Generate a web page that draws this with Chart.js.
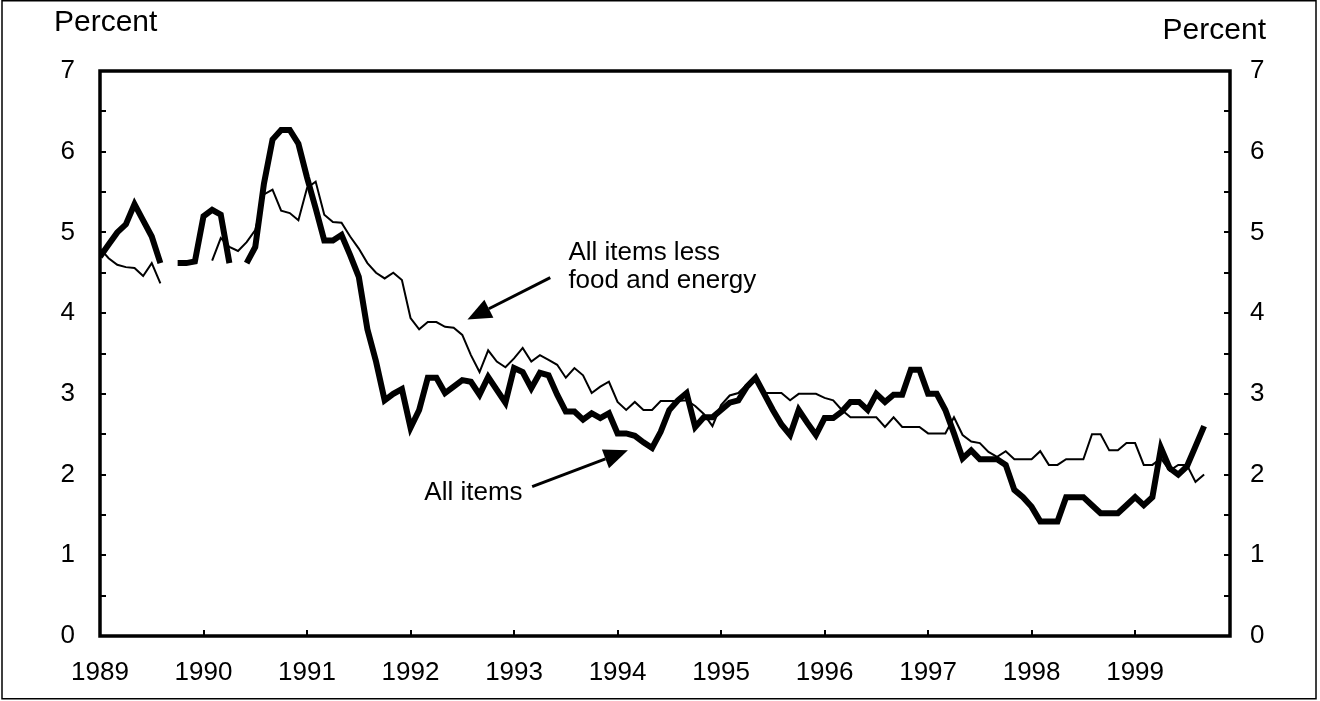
<!DOCTYPE html>
<html>
<head>
<meta charset="utf-8">
<script src="https://cdn.jsdelivr.net/npm/chart.js@4/dist/chart.umd.min.js"></script>
<style>
    html, body { margin: 0; padding: 0; background: #fff; }
    #wrap { width: 1320px; height: 701px; }
</style>
</head>
<body>
<div id="wrap"><canvas id="cpiChart" width="1320" height="701"></canvas></div>
<script>
// 12-month percent change, monthly from Jan 1989 (index 0)
var yearLabels = ['1989', '1990', '1991', '1992', '1993', '1994', '1995', '1996', '1997', '1998', '1999'];
var yTickLabels = [0, 1, 2, 3, 4, 5, 6, 7];

var allItems = [
    4.7, 4.85, 5.0, 5.1, 5.35, 5.15, 4.95, 4.62, null, 4.62, 4.62, 4.64,     // 1989
    5.2, 5.28, 5.22, 4.62, null, 4.62, 4.82, 5.6, 6.15, 6.27, 6.27, 6.1,     // 1990
    5.68, 5.3, 4.9, 4.9, 4.97, 4.72, 4.45, 3.8, 3.4, 2.92, 3.0, 3.06,        // 1991
    2.58, 2.8, 3.2, 3.2, 3.01, 3.09, 3.17, 3.15, 2.99, 3.21, 3.05, 2.89,     // 1992
    3.32, 3.27, 3.07, 3.26, 3.23, 2.99, 2.78, 2.78, 2.68, 2.76, 2.7, 2.76,   // 1993
    2.51, 2.51, 2.48, 2.4, 2.33, 2.53, 2.8, 2.92, 3.01, 2.59, 2.71, 2.71,    // 1994
    2.8, 2.89, 2.92, 3.09, 3.2, 3.0, 2.8, 2.62, 2.49, 2.8, 2.64, 2.49,       // 1995
    2.7, 2.7, 2.78, 2.9, 2.9, 2.8, 3.0, 2.9, 2.99, 2.99, 3.3, 3.3,           // 1996
    3.0, 3.0, 2.8, 2.51, 2.2, 2.3, 2.19, 2.19, 2.19, 2.12, 1.81, 1.72,       // 1997
    1.6, 1.42, 1.42, 1.42, 1.72, 1.72, 1.72, 1.62, 1.52, 1.52, 1.52, 1.62,   // 1998
    1.72, 1.62, 1.72, 2.33, 2.08, 2.0, 2.1, 2.35, 2.6                        // 1999
];

var lessFoodEnergy = [
    4.8, 4.68, 4.6, 4.57, 4.56, 4.46, 4.62, 4.37, null, null, null, null,    // 1989
    null, 4.65, 4.93, 4.82, 4.77, 4.88, 5.03, 5.47, 5.53, 5.27, 5.24, 5.15,  // 1990
    5.55, 5.63, 5.22, 5.13, 5.12, 4.95, 4.8, 4.62, 4.5, 4.43, 4.5, 4.41,     // 1991
    3.94, 3.8, 3.89, 3.89, 3.83, 3.82, 3.73, 3.48, 3.27, 3.54, 3.4, 3.33,    // 1992
    3.44, 3.57, 3.4, 3.48, 3.42, 3.36, 3.2, 3.32, 3.23, 3.01, 3.09, 3.15,    // 1993
    2.9, 2.8, 2.9, 2.8, 2.8, 2.91, 2.91, 2.91, 2.92, 2.85, 2.75, 2.6,        // 1994
    2.86, 2.98, 3.01, 3.12, 3.2, 3.01, 3.01, 3.01, 2.92, 3.0, 3.0, 3.0,      // 1995
    2.95, 2.92, 2.8, 2.71, 2.71, 2.71, 2.71, 2.59, 2.71, 2.59, 2.59, 2.59,   // 1996
    2.51, 2.51, 2.51, 2.71, 2.49, 2.41, 2.39, 2.28, 2.22, 2.29, 2.19, 2.19,  // 1997
    2.19, 2.29, 2.12, 2.12, 2.19, 2.19, 2.19, 2.5, 2.5, 2.3, 2.3, 2.39,      // 1998
    2.39, 2.12, 2.12, 2.2, 2.05, 2.12, 2.12, 1.91, 2.0                       // 1999
];

var FONT = '"Liberation Sans", Arial, Helvetica, sans-serif';

function toPoints(arr) {
    return arr.map(function(v, i) { return { x: i, y: v }; });
}

// callouts, placed in data units (month index, percent)
var callouts = [
    { lines: ['All items less', 'food and energy'], text: [54.3, 4.66], from: [52.2, 4.44], to: [42.6, 3.92] },
    { lines: ['All items'], text: [37.6, 1.69], from: [50.1, 1.85], to: [61.2, 2.30] }
];

var framePlugin = {
    id: 'frame',
    afterDatasetsDraw: function(chart) {
        var ctx = chart.ctx;
        var a = chart.chartArea;
        var xs = chart.scales.x;
        var ys = chart.scales.y;
        ctx.save();
        ctx.strokeStyle = '#000';
        ctx.fillStyle = '#000';

        // inward tick marks
        ctx.lineWidth = 2;
        ctx.beginPath();
        for (var v = 0.5; v < 7; v += 0.5) {
            var py = Math.round(ys.getPixelForValue(v));
            ctx.moveTo(a.left, py); ctx.lineTo(a.left + 6, py);
            ctx.moveTo(a.right - 6, py); ctx.lineTo(a.right, py);
        }
        for (var m = 12; m < 131; m += 12) {
            var px = Math.round(xs.getPixelForValue(m));
            ctx.moveTo(px, a.bottom); ctx.lineTo(px, a.bottom - 6);
        }
        ctx.stroke();

        // plot box
        ctx.lineWidth = 3.5;
        ctx.strokeRect(a.left, a.top, a.right - a.left, a.bottom - a.top);

        // outer border
        ctx.lineWidth = 1.5;
        ctx.strokeRect(2, 0.75, 1314, 698);

        // axis titles
        ctx.font = '30px ' + FONT;
        ctx.textBaseline = 'middle';
        ctx.textAlign = 'left';
        ctx.fillText('Percent', 54, 23);
        ctx.textAlign = 'right';
        ctx.fillText('Percent', 1266, 31);

        // callouts
        ctx.font = '26px ' + FONT;
        ctx.textAlign = 'left';
        ctx.textBaseline = 'alphabetic';
        callouts.forEach(function(c) {
            var tx = xs.getPixelForValue(c.text[0]);
            var ty = ys.getPixelForValue(c.text[1]);
            c.lines.forEach(function(line, k) {
                ctx.fillText(line, tx, ty + k * 28);
            });
            var x0 = xs.getPixelForValue(c.from[0]), y0 = ys.getPixelForValue(c.from[1]);
            var x1 = xs.getPixelForValue(c.to[0]), y1 = ys.getPixelForValue(c.to[1]);
            var ang = Math.atan2(y1 - y0, x1 - x0);
            var headLen = 24, headHalf = 10;
            var bx = x1 - headLen * Math.cos(ang), by = y1 - headLen * Math.sin(ang);
            ctx.lineWidth = 3;
            ctx.beginPath();
            ctx.moveTo(x0, y0);
            ctx.lineTo(bx, by);
            ctx.stroke();
            ctx.beginPath();
            ctx.moveTo(x1, y1);
            ctx.lineTo(bx + headHalf * Math.sin(ang), by - headHalf * Math.cos(ang));
            ctx.lineTo(bx - headHalf * Math.sin(ang), by + headHalf * Math.cos(ang));
            ctx.closePath();
            ctx.fill();
        });
        ctx.restore();
    }
};

var tickFont = { family: FONT, size: 26 };

var cpiChart = new Chart(document.getElementById('cpiChart').getContext('2d'), {
    type: 'line',
    data: {
        datasets: [{
            label: 'All items',
            data: toPoints(allItems),
            borderColor: '#000',
            borderWidth: 6,
            pointRadius: 0,
            tension: 0,
            spanGaps: false
        }, {
            label: 'All items less food and energy',
            data: toPoints(lessFoodEnergy),
            borderColor: '#000',
            borderWidth: 2,
            pointRadius: 0,
            tension: 0,
            spanGaps: false
        }]
    },
    options: {
        responsive: false,
        animation: false,
        layout: { padding: { top: 71, left: 0, right: 0, bottom: 0 } },
        plugins: {
            legend: { display: false },
            tooltip: { enabled: false }
        },
        scales: {
            x: {
                type: 'linear',
                min: 0,
                max: 131,
                grid: { display: false, drawTicks: false },
                border: { display: false },
                ticks: {
                    stepSize: 12,
                    includeBounds: false,
                    autoSkip: false,
                    maxRotation: 0,
                    padding: 21,
                    color: '#000',
                    font: tickFont,
                    callback: function(v) { return yearLabels[v / 12]; }
                },
                afterFit: function(scale) { scale.height = 65; }
            },
            y: {
                position: 'left',
                min: 0,
                max: 7,
                grid: { display: false, drawTicks: false },
                border: { display: false },
                ticks: {
                    stepSize: 1,
                    padding: 25,
                    color: '#000',
                    font: tickFont,
                    callback: function(v) { return yTickLabels.indexOf(v) >= 0 ? String(v) : ''; }
                },
                afterFit: function(scale) { scale.width = 100; }
            },
            y1: {
                position: 'right',
                min: 0,
                max: 7,
                grid: { display: false, drawTicks: false },
                border: { display: false },
                ticks: {
                    stepSize: 1,
                    padding: 20,
                    color: '#000',
                    font: tickFont,
                    callback: function(v) { return yTickLabels.indexOf(v) >= 0 ? String(v) : ''; }
                },
                afterFit: function(scale) { scale.width = 90; }
            }
        }
    },
    plugins: [framePlugin]
});
</script>
</body>
</html>
